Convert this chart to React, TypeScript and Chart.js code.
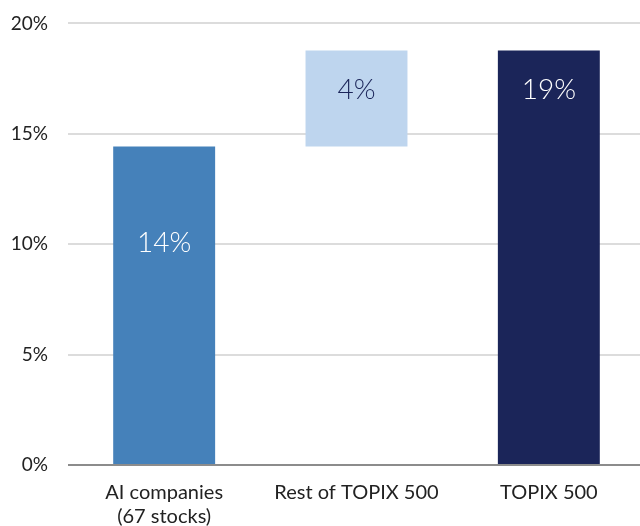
import React, { useEffect, useRef } from "react";
import { Chart, registerables } from "chart.js";

Chart.register(...registerables);

const categories: (string | string[])[] = [["AI companies", "(67 stocks)"], "Rest of TOPIX 500", "TOPIX 500"];
const barStart = [0, 14.43, 0];
const barEnd = [14.43, 18.77, 18.77];
const barLabels = ["14%", "4%", "19%"];
const barColors = ["#4581BA", "#BED5EE", "#1B2559"];
const labelColors = ["#FFFFFF", "#1B2559", "#FFFFFF"];
const labelOffsets = [97, 39, 39];
const yTicks = [0, 5, 10, 15, 20];

const FONT = "Lato, 'Open Sans', sans-serif";

const labelPlugin = {
  id: "barLabels",
  afterDatasetsDraw(chart: any) {
    const meta = chart.getDatasetMeta(0);
    const ctx = chart.ctx;
    ctx.save();
    ctx.font = `300 28px ${FONT}`;
    ctx.textAlign = "center";
    ctx.textBaseline = "middle";
    meta.data.forEach((bar: any, i: number) => {
      ctx.fillStyle = labelColors[i];
      ctx.fillText(barLabels[i], bar.x, bar.y + labelOffsets[i]);
    });
    ctx.restore();
  },
};

export default function App() {
  const ref = useRef<HTMLCanvasElement>(null);
  useEffect(() => {
    if (!ref.current) return;
    const chart = new Chart(ref.current, {
      type: "bar",
      data: {
        labels: categories,
        datasets: [
          {
            data: barStart.map((s, i) => [s, barEnd[i]]) as any,
            backgroundColor: barColors,
            borderWidth: 0,
            barPercentage: 0.53,
            categoryPercentage: 1,
          },
        ],
      },
      options: {
        animation: false,
        responsive: false,
        layout: { autoPadding: false, padding: 0 },
        plugins: {
          legend: { display: false },
          tooltip: { enabled: false },
        },
        scales: {
          x: {
            grid: { display: false, drawTicks: false },
            border: { display: false },
            ticks: {
              color: "#222222",
              font: { family: FONT, size: 20 },
              padding: 16,
              maxRotation: 0,
            },
            afterFit: (s: any) => {
              s.height = 61;
            },
          },
          y: {
            min: 0,
            max: 20,
            afterBuildTicks: (s: any) => {
              s.ticks = yTicks.map((v) => ({ value: v }));
            },
            grid: {
              drawTicks: false,
              lineWidth: 2,
              color: (c: any) => (c.tick && c.tick.value === 0 ? "#8C8C8C" : "#DCDCDC"),
            },
            border: { display: false },
            ticks: {
              color: "#222222",
              font: { family: FONT, size: 19 },
              padding: 20,
              callback: (v: any) => `${v}%`,
            },
            afterFit: (s: any) => {
              s.width = 60;
            },
          },
        },
      },
      plugins: [labelPlugin],
    });
    return () => chart.destroy();
  }, []);
  return (
    <div style={{ position: "fixed", left: 8, top: -8, width: 637, height: 534 }}>
      <canvas ref={ref} width={637} height={534} style={{ display: "block" }} />
    </div>
  );
}
